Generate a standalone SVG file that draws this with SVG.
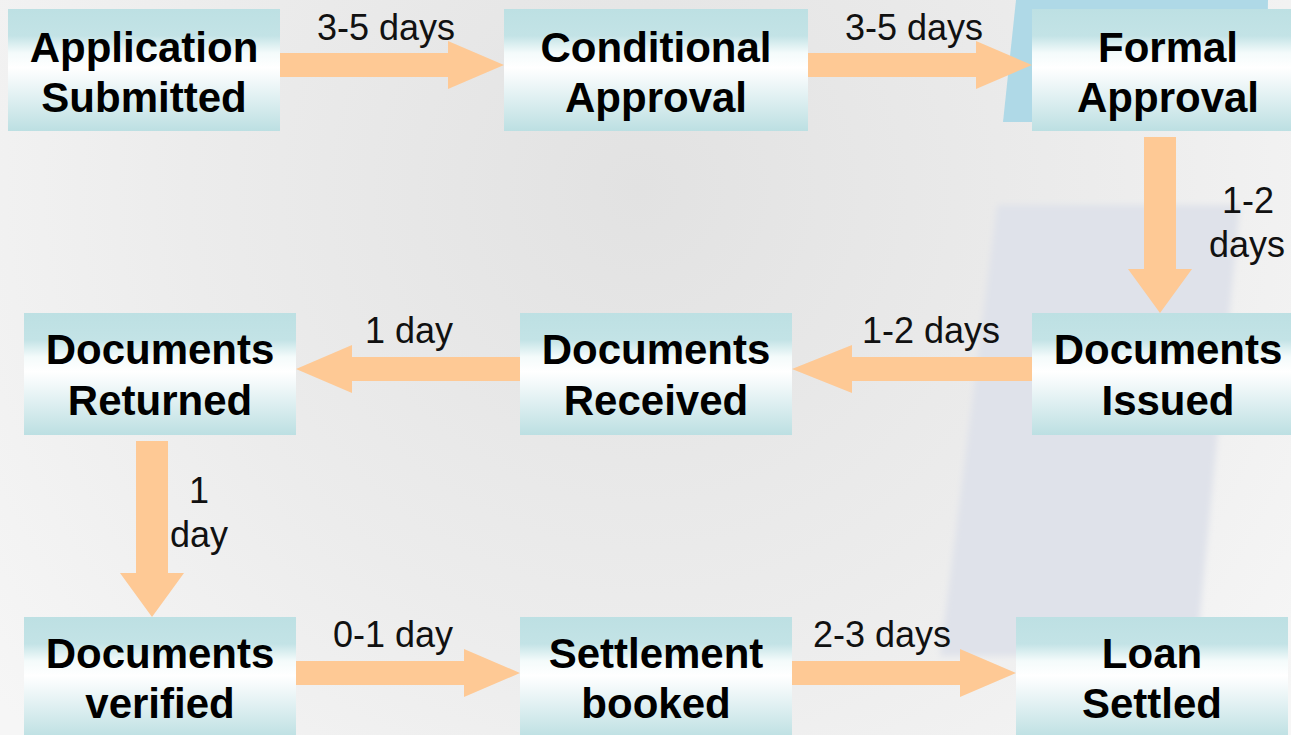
<svg xmlns="http://www.w3.org/2000/svg" width="1291" height="735" viewBox="0 0 1291 735">
  <defs>
    <radialGradient id="bg" cx="640" cy="190" r="820" gradientUnits="userSpaceOnUse">
      <stop offset="0" stop-color="#e2e2e2"/>
      <stop offset="0.55" stop-color="#ececec"/>
      <stop offset="1" stop-color="#f6f6f6"/>
    </radialGradient>
    <linearGradient id="box" x1="0" y1="0" x2="0" y2="1">
      <stop offset="0" stop-color="#bde0e3"/>
      <stop offset="0.22" stop-color="#c3e3e6"/>
      <stop offset="0.36" stop-color="#f4fbfb"/>
      <stop offset="0.48" stop-color="#ffffff"/>
      <stop offset="0.58" stop-color="#f3f9fa"/>
      <stop offset="1" stop-color="#bcdfe2"/>
    </linearGradient>
    <filter id="soft" x="-10%" y="-10%" width="120%" height="120%">
      <feGaussianBlur stdDeviation="3"/>
    </filter>
    <style>
      .node rect { fill: url(#box); }
      .node text { font-family: "Liberation Sans", Arial, sans-serif; font-weight: bold; font-size: 42px; fill: #000; text-anchor: middle; }
      .arrow { fill: #fec995; }
      .lbl { font-family: "Liberation Sans", Arial, sans-serif; font-size: 36px; fill: #111; text-anchor: middle; }
    </style>
  </defs>

  <!-- background -->
  <rect x="0" y="0" width="1291" height="735" fill="url(#bg)"/>
  <polygon points="997,205 1240,205 1196,656 940,656" fill="#dfe2ea" filter="url(#soft)"/>
  <polygon points="1016,0 1268,0 1266,122 1003,122" fill="#afd9e7"/>

  <!-- connectors -->
  <g id="connectors">
    <polygon class="arrow" points="280,53 448,53 448,41 504,65 448,89 448,77 280,77"/>
    <polygon class="arrow" points="808,53 976,53 976,41 1032,65 976,89 976,77 808,77"/>
    <polygon class="arrow" points="1144,137 1176,137 1176,269 1192,269 1160,313 1128,269 1144,269"/>
    <polygon class="arrow" points="1032,357 852,357 852,345 792,369 852,393 852,381 1032,381"/>
    <polygon class="arrow" points="520,357 352,357 352,345 296,369 352,393 352,381 520,381"/>
    <polygon class="arrow" points="136,441 168,441 168,573 184,573 152,617 120,573 136,573"/>
    <polygon class="arrow" points="296,661 464,661 464,649 520,673 464,697 464,685 296,685"/>
    <polygon class="arrow" points="792,661 960,661 960,649 1016,673 960,697 960,685 792,685"/>
    <text class="lbl" x="386" y="40">3-5 days</text>
    <text class="lbl" x="914" y="40">3-5 days</text>
    <text class="lbl" x="1248" y="213">1-2</text>
    <text class="lbl" x="1247" y="257">days</text>
    <text class="lbl" x="931" y="343">1-2 days</text>
    <text class="lbl" x="409" y="343">1 day</text>
    <text class="lbl" x="199" y="503">1</text>
    <text class="lbl" x="199" y="547">day</text>
    <text class="lbl" x="393" y="647">0-1 day</text>
    <text class="lbl" x="882" y="647">2-3 days</text>
  </g>

  <!-- nodes -->
  <g id="n-application" class="node">
    <rect x="8" y="9" width="272" height="122"/>
    <text x="144" y="62">Application</text>
    <text x="144" y="112">Submitted</text>
  </g>
  <g id="n-conditional" class="node">
    <rect x="504" y="9" width="304" height="122"/>
    <text x="656" y="62">Conditional</text>
    <text x="656" y="112">Approval</text>
  </g>
  <g id="n-formal" class="node">
    <rect x="1032" y="9" width="272" height="122"/>
    <text x="1168" y="62">Formal</text>
    <text x="1168" y="112">Approval</text>
  </g>
  <g id="n-issued" class="node">
    <rect x="1032" y="313" width="272" height="122"/>
    <text x="1168" y="364">Documents</text>
    <text x="1168" y="415">Issued</text>
  </g>
  <g id="n-received" class="node">
    <rect x="520" y="313" width="272" height="122"/>
    <text x="656" y="364">Documents</text>
    <text x="656" y="415">Received</text>
  </g>
  <g id="n-returned" class="node">
    <rect x="24" y="313" width="272" height="122"/>
    <text x="160" y="364">Documents</text>
    <text x="160" y="415">Returned</text>
  </g>
  <g id="n-verified" class="node">
    <rect x="24" y="617" width="272" height="122"/>
    <text x="160" y="668">Documents</text>
    <text x="160" y="718">verified</text>
  </g>
  <g id="n-booked" class="node">
    <rect x="520" y="617" width="272" height="122"/>
    <text x="656" y="668">Settlement</text>
    <text x="656" y="718">booked</text>
  </g>
  <g id="n-settled" class="node">
    <rect x="1016" y="617" width="272" height="122"/>
    <text x="1152" y="668">Loan</text>
    <text x="1152" y="718">Settled</text>
  </g>
</svg>
